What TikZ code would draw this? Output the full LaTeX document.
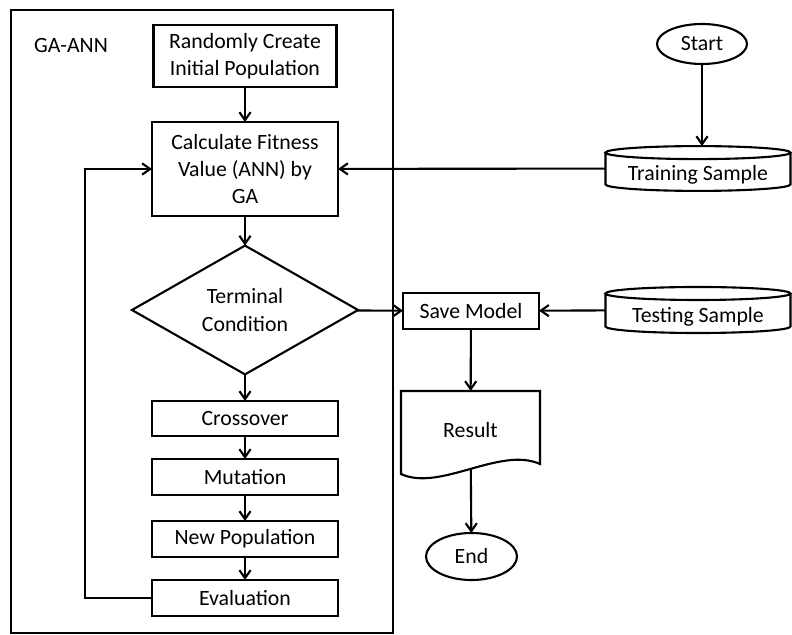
\documentclass[tikz,border=0pt]{standalone}
\usepackage{fontspec}
\setmainfont{Carlito}
\usepackage{tikz}
\usetikzlibrary{shapes.geometric,arrows.meta}

\begin{document}
\begin{tikzpicture}[x=0.025cm,y=-0.025cm,line width=1.5pt]
        \tikzstyle{every node} = [font=\fontsize{15.5}{19.5}\selectfont, align=center, inner sep=0pt, outer sep=0pt]
        \tikzstyle{box} = [rectangle, draw, minimum width=4.65cm, minimum height=0.9cm]
        \tikzstyle{oval} = [ellipse, draw]
        \tikzstyle{store} = [rectangle, minimum width=4.625cm, minimum height=1.12cm, text height=0.72cm, text depth=0.1cm]
        \tikzstyle{arr} = [-{Straight Barb[length=2mm,width=2.8mm]}]
        \useasboundingbox (0,0) rectangle (792,635);

        \draw (11,10) rectangle (393,633);
        \node (0) at (71,46) {GA-ANN};
        \node[box, minimum width=4.575cm, minimum height=1.55cm] (1) at (245,56) {Randomly Create\\Initial Population};
        \node[box, minimum height=2.35cm] (2) at (245,169) {Calculate Fitness\\Value (ANN) by\\GA};
        \node[diamond, draw, minimum width=5.65cm, minimum height=2.9cm] (3) at (245,310) {Terminal\\Condition};
        \node[box, minimum height=0.875cm] (4) at (245,418.5) {Crossover};
        \node[box] (5) at (245,477) {Mutation};
        \node[box] (6) at (245,539) {New Population};
        \node[box] (7) at (245,598) {Evaluation};

        \node[oval, minimum width=2.25cm, minimum height=1cm] (8) at (702,44) {Start};
        \node[store] (9) at (698,168.5) {Training Sample};
        \node[store, minimum height=1.15cm] (10) at (698,310) {Testing Sample};
        \node[box, minimum width=3.4cm] (11) at (471,311) {Save Model};
        \node[rectangle, minimum width=3.475cm, minimum height=1.95cm] (12) at (470.5,430) {Result};
        \node[oval, minimum width=2.275cm, minimum height=1.175cm] (13) at (471.5,556.5) {End};

        \foreach \n in {9,10}
            \draw ([yshift=-0.1625cm]\n.north) ellipse [x radius=2.3125cm, y radius=0.1625cm]
                  ([yshift=-0.1625cm]\n.north west) -- ([yshift=0.1625cm]\n.south west)
                  arc [start angle=180, end angle=360, x radius=2.3125cm, y radius=0.1625cm]
                  -- ([yshift=-0.1625cm]\n.north east);
        \draw (12.north west) -- (12.north east) -- ([yshift=0.125cm]12.south east)
              .. controls +(-40,-18) and +(39,18) .. ([yshift=-0.125cm]12.south west) -- cycle;

        \foreach \from/\to in {1/2, 2/3, 3/4, 4/5, 5/6, 6/7, 9/2, 3/11, 10/11, 11/12, 12/13}
            \draw[arr] (\from) -- (\to);
        \draw[arr] (8) -- (8 |- 9.north);
        \draw[arr] (7.west) -- ++(-67,0) |- (2.west);
\end{tikzpicture}
\end{document}
